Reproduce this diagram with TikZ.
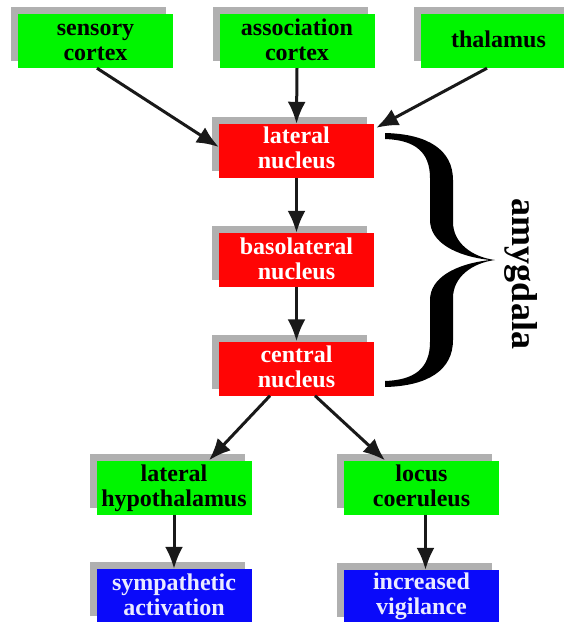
\documentclass[tikz,border=0pt]{standalone}
\usepackage{fontspec}
\setmainfont{Liberation Serif}
\usetikzlibrary{arrows.meta,shadows}
\definecolor{boxgreen}{RGB}{0,245,0}
\definecolor{boxred}{RGB}{255,5,5}
\definecolor{boxblue}{RGB}{10,10,250}
\definecolor{shadowgray}{RGB}{176,176,176}
\definecolor{arrowgray}{RGB}{25,25,25}
\definecolor{bluetext}{RGB}{235,235,255}
\newcommand\hstrut{\rule{0pt}{21pt}}
\newcommand\lstrut{\rule{0pt}{16.5pt}}
\newcommand\dstrut{\rule[-7.5pt]{0pt}{7.5pt}}
\tikzset{
  box/.style={minimum width=155pt, minimum height=54pt, inner sep=0pt, align=center,
    font=\fontsize{24}{25}\selectfont\bfseries,
    drop shadow={shadow xshift=-7pt, shadow yshift=7pt, fill=shadowgray, opacity=1}},
  gbox/.style={box, fill=boxgreen, text=black},
  rbox/.style={box, fill=boxred, text=white},
  bbox/.style={box, fill=boxblue, text=bluetext},
  arr/.style={draw=arrowgray, line width=3pt, -{Latex[length=22pt,width=18pt]}},
}
\begin{document}
\begin{tikzpicture}[x=1pt,y=-1pt]
\clip (0,0) rectangle (564,622);
\fill[white] (0,0) rectangle (564,622);
% boxes
\node[gbox] (sens)  at (95.5,41)  {\hstrut sensory\\cortex\dstrut};
\node[gbox] (assoc) at (297,41)   {\hstrut association\\cortex\dstrut};
\node[gbox] (thal)  at (498.5,41) {\hstrut thalamus\dstrut};
\node[rbox] (lat)   at (296.5,151) {\lstrut lateral\\nucleus\dstrut};
\node[rbox] (baso)  at (296.5,260) {\hstrut basolateral\\nucleus\dstrut};
\node[rbox] (cent)  at (296.5,368.5) {\hstrut central\\nucleus\dstrut};
\node[gbox] (lh)    at (174,487.5) {\hstrut lateral\\hypothalamus\dstrut};
\node[gbox] (lc)    at (421.5,487.5) {\hstrut locus\\coeruleus\dstrut};
\node[bbox] (symp)  at (174,596) {\hstrut sympathetic\\activation\dstrut};
\node[bbox] (vig)   at (421.5,597) {\lstrut increased\\vigilance\dstrut};
% arrows
\draw[arr] ([xshift=1.5pt]sens.south) -- ([yshift=4pt]lat.west);
\draw[arr] (assoc.south) -- (lat.north);
\draw[arr] ([xshift=-11.5pt]thal.south) -- ([xshift=2pt,yshift=-4pt]lat.north east);
\draw[arr] (lat.south) -- (baso.north);
\draw[arr] (baso.south) -- (cent.north);
\draw[arr] ([xshift=-26.5pt]cent.south) -- ([xshift=35pt]lh.north);
\draw[arr] ([xshift=18.5pt]cent.south) -- ([xshift=-36.5pt]lc.north);
\draw[arr] (lh.south) -- (symp.north);
\draw[arr] ([xshift=4pt]lc.south) -- ([xshift=4pt]vig.north);
% brace
\fill[black] (385,133) .. controls (428,134) and (453,150) .. (453,180)
  -- (453,222) .. controls (453,243) and (472,257) .. (495,260)
  .. controls (472,263) and (453,277) .. (453,298)
  -- (453,340) .. controls (453,370) and (428,386) .. (385,387)
  -- (385,381) .. controls (415,380) and (430,368) .. (430,342)
  -- (430,300) .. controls (430,278) and (455,264) .. (490,260)
  .. controls (455,256) and (430,242) .. (430,220)
  -- (430,178) .. controls (430,152) and (415,140) .. (385,139) -- cycle;
\node[rotate=-90, font=\fontsize{36}{36}\selectfont\bfseries, inner sep=0pt] (amy) at (521,274) {amygdala};
\end{tikzpicture}
\end{document}
